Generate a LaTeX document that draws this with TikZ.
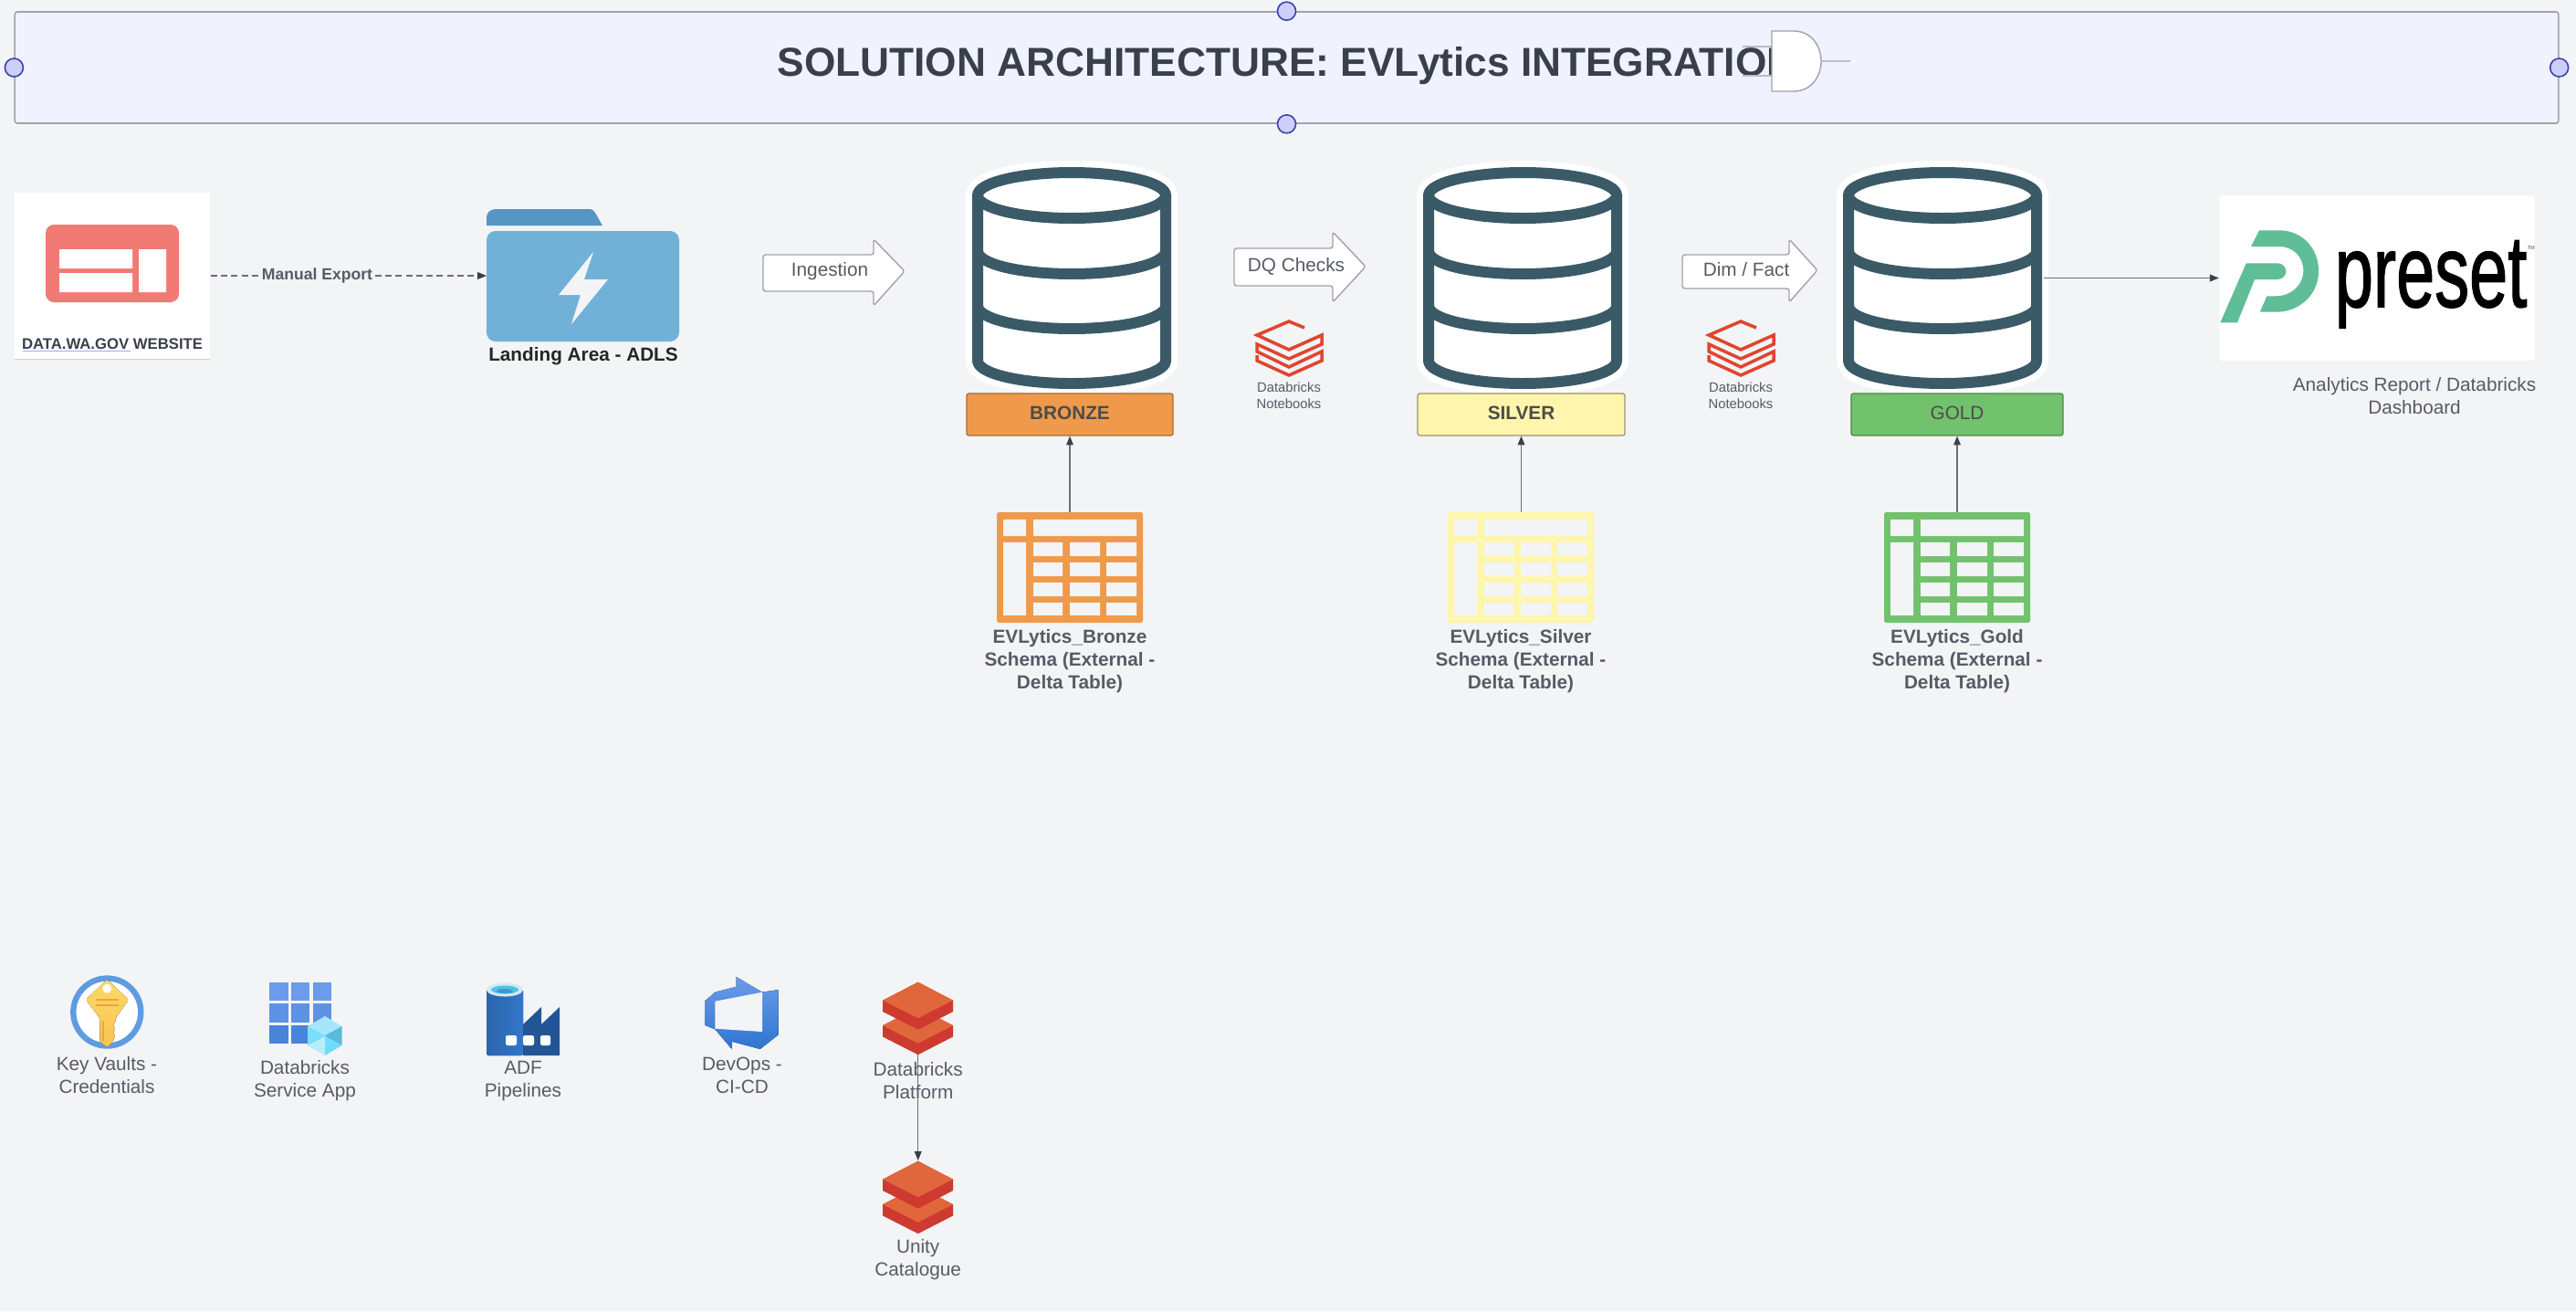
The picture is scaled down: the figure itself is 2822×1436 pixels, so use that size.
\documentclass[tikz,border=0pt]{standalone}
\usepackage{fontspec}
\setmainfont{Liberation Sans}
\newfontfamily\presetfont[FakeBold=1.5]{Liberation Sans}
\usetikzlibrary{arrows.meta}
\definecolor{bgc}{HTML}{F2F4F6}
\definecolor{titlefill}{HTML}{F0F2FE}
\definecolor{edge}{HTML}{A0A2AE}
\definecolor{ink}{HTML}{3A3F4C}
\definecolor{wire}{HTML}{6A6E78}
\definecolor{label}{HTML}{565B66}
\definecolor{drum}{HTML}{3A5A68}
\definecolor{bronze}{HTML}{EF9A4A}
\definecolor{silver}{HTML}{FFF5AD}
\definecolor{gold}{HTML}{72C16C}
\definecolor{dbred}{HTML}{E0452E}
\definecolor{dbtop}{HTML}{E0663C}
\definecolor{dbside}{HTML}{CF3A30}
\definecolor{pgreen}{HTML}{5FBD98}
\definecolor{webred}{HTML}{F07A74}
\definecolor{foldertab}{HTML}{5596C4}
\definecolor{folderbody}{HTML}{71B1D7}
\definecolor{handleline}{HTML}{3C40B0}
\definecolor{handlefill}{HTML}{CCD0F8}
\definecolor{keytop}{HTML}{FBD869}
\definecolor{keybot}{HTML}{F8C452}
\definecolor{keybar}{HTML}{F0A43A}
\definecolor{ringblue}{HTML}{5F9BE0}
\definecolor{gridA}{HTML}{6B9BEA}
\definecolor{gridB}{HTML}{5D92E4}
\definecolor{gridC}{HTML}{4784DA}
\definecolor{adfA}{HTML}{2A64AD}
\definecolor{adfB}{HTML}{3278C8}
\definecolor{adfC}{HTML}{235596}
\definecolor{devA}{HTML}{6B9BEA}
\definecolor{devB}{HTML}{2F75D0}
\tikzset{
  x=0.01cm,y=-0.01cm,
  txt/.style={inner sep=0pt,align=center,text=label,font=\fontsize{5.9}{7.11}\selectfont},
  txtb/.style={txt,font=\fontsize{5.9}{7.11}\selectfont\bfseries},
  small/.style={txt,font=\fontsize{4.2}{5.1}\selectfont},
  handle/.style={circle,draw=handleline,fill=handlefill,line width=.45pt,minimum size=.2cm,inner sep=0pt},
  conn/.style={draw=wire,line width=.33pt,-{Triangle[length=2.8pt,width=2.2pt,color=ink]}},
  flowarrow/.style={draw=edge,fill=white,line width=.4pt,rounded corners=.8pt,line join=round},
  tier/.style={line width=.35pt,rounded corners=.7pt,minimum height=.46cm,inner sep=0pt,text=black!70,font=\fontsize{5.9}{7.11}\selectfont},
  hole/.style={fill=bgc,draw=none},
}
\newcommand{\drumicon}[1]{%
\begin{scope}[xshift=#1*0.01cm]
  \path[draw=white,fill=white,line width=7.4pt,line join=round]
    (-103,214) -- (-103,395) .. controls (-103,409) and (-57,420) .. (0,420) .. controls (57,420) and (103,409) .. (103,395)
    -- (103,214) .. controls (103,200) and (57,189) .. (0,189) .. controls (-57,189) and (-103,200) .. (-103,214) -- cycle;
  \draw[drum,line width=3.41pt,line join=round] (-103,214) -- (-103,395) .. controls (-103,409) and (-57,420) .. (0,420) .. controls (57,420) and (103,409) .. (103,395) -- (103,214);
  \draw[drum,line width=3.41pt] (0,214) ellipse [x radius=103,y radius=25];
  \foreach \yy in {275,335}{
    \draw[drum,line width=3.41pt] (-103,\yy) .. controls (-103,\yy+14) and (-57,\yy+25) .. (0,\yy+25) .. controls (57,\yy+25) and (103,\yy+14) .. (103,\yy);
  }
\end{scope}}
\newcommand{\tableicon}[2]{%
\begin{scope}[xshift=#1*0.01cm]
  \fill[#2,rounded corners=.5pt] (-80,561) rectangle (80,682);
  \fill[hole] (-73,569) rectangle (-48,587) (-40,569) rectangle (73,587) (-73,594) rectangle (-48,674);
  \foreach \ya/\yb in {594/609,616/631,638/653,660/674}{
    \fill[hole] (-40,\ya) rectangle (-8,\yb) (0,\ya) rectangle (33,\yb) (40,\ya) rectangle (73,\yb);
  }
\end{scope}}
\newcommand{\nbicon}[1]{%
\draw[dbred,line width=1.0pt,line join=miter]
  (#1+17,359) -- (#1,352) -- (#1-35,367) -- (#1,383) -- (#1+36,367) -- (#1+36,377) -- (#1,393) -- (#1-35,377) -- (#1-35,385) -- (#1,402) -- (#1+36,385) -- (#1+36,395) -- (#1,411) -- (#1-35,395) -- (#1-35,389);}
\newcommand{\stackicon}[2]{%
\foreach \dy in {27.5,0}{
  \fill[dbside] (#1-38.7,#2+20+\dy) -- (#1,#2+\dy) -- (#1+38.3,#2+20+\dy) -- (#1+38.3,#2+32.3+\dy) -- (#1,#2+52+\dy) -- (#1-38.7,#2+32.3+\dy) -- cycle;
  \fill[dbtop] (#1-38.7,#2+20+\dy) -- (#1,#2+\dy) -- (#1+38.3,#2+20+\dy) -- (#1,#2+39.5+\dy) -- cycle;
}}
\begin{document}
\begin{tikzpicture}
\useasboundingbox (0,0) rectangle (2822,1436);
\fill[bgc] (0,0) rectangle (2822,1436);

% title
\node[draw=edge,fill=titlefill,line width=.45pt,rounded corners=.8pt,minimum width=27.85cm,minimum height=1.22cm,inner sep=0pt] (titlebox) at (1409.5,74) {};
\node[inner sep=0pt,text=ink,font=\fontsize{12.58}{15}\selectfont\bfseries,anchor=west] (titletext) at (851,72) {SOLUTION ARCHITECTURE: EVLytics INTEGRATION};
\node[handle] (hw) at (titlebox.west) {};
\node[handle] (he) at (titlebox.east) {};
\node[handle] (hn) at (titlebox.north) {};
\node[handle] (hs) at (titlebox.south) {};
% gate
\draw[edge!70!white,line width=.3pt] (1909,51) -- (1941,51) (1909,83) -- (1941,83) (1995,67) -- (2027,67);
\draw[edge,fill=white,line width=.4pt] (1941,34) -- (1965,34) .. controls (1984,34) and (1995,50) .. (1995,67) .. controls (1995,84) and (1984,100) .. (1965,100) -- (1941,100) -- cycle;

% website
\node[fill=white,minimum width=2.14cm,minimum height=1.82cm,inner sep=0pt] (web) at (123,302) {};
\draw[black!18,line width=.4pt] (16,393.5) -- (230,393.5);
\fill[webred,rounded corners=2.6pt] (50,246) rectangle (196,331);
\fill[white] (65,273) rectangle (145,294) (65,299) rectangle (145,320) (152,273) rectangle (182,320);
\node[txtb,text=ink,font=\fontsize{4.75}{6}\selectfont\bfseries] (webtext) at (123,377) {DATA.WA.GOV WEBSITE};
\draw[blue!35!white,line width=.25pt] (25,384.5) -- (143,384.5);

% folder
\fill[foldertab] (533,247) -- (533,238) .. controls (533,232) and (538,229) .. (544,229) -- (645,229) .. controls (649,229) and (651,231) .. (652,233) -- (660,247) -- cycle;
\fill[folderbody,rounded corners=2.8pt] (533,253) rectangle (744,374);
\fill[bgc] (650,276) -- (612,323) -- (636,323) -- (626,355) -- (666,306) -- (640,306) -- cycle;
\node[txtb,text=black!85,font=\fontsize{5.9}{7.11}\selectfont\bfseries] (foldertext) at (639,390) {Landing Area - ADLS};
\coordinate (folderW) at (533,302);

% manual export
\draw[draw=wire,line width=.3pt,dash pattern=on 2pt off 1.2pt,-{Triangle[length=2.8pt,width=2.2pt,color=ink,sep=0pt]}] (web.east) -- (folderW) node[pos=.386,fill=bgc,inner sep=0pt,text=label,font=\fontsize{5.0}{6}\selectfont\bfseries] (exportlabel) {Manual Export};

% flow arrows
\draw[flowarrow] (836,279) -- (957,279) -- (957,262) -- (991,297) -- (957,335) -- (957,319) -- (836,319) -- cycle;
\node[txt] (ingest) at (909,297) {Ingestion};
\draw[flowarrow] (1352,272) -- (1460,272) -- (1460,254) -- (1496,292) -- (1460,331) -- (1460,313) -- (1352,313) -- cycle;
\node[txt] (dq) at (1420,292) {DQ Checks};
\draw[flowarrow] (1843,279) -- (1960,279) -- (1960,262) -- (1991,296) -- (1960,331) -- (1960,316) -- (1843,316) -- cycle;
\node[txt] (dim) at (1913,295) {Dim / Fact};

% cylinders
\drumicon{1174}\drumicon{1668}\drumicon{2128}

% tier boxes
\node[tier,draw=bronze!70!black,fill=bronze,minimum width=2.26cm,font=\fontsize{5.9}{7.11}\selectfont\bfseries] (bronzebox) at (1172,454) {\raisebox{.9pt}{BRONZE}};
\node[tier,draw=silver!60!black,fill=silver,minimum width=2.27cm,font=\fontsize{5.9}{7.11}\selectfont\bfseries] (silverbox) at (1666.5,454) {\raisebox{.9pt}{SILVER}};
\node[tier,draw=gold!70!black,fill=gold,minimum width=2.32cm] (goldbox) at (2144,454) {\raisebox{.9pt}{GOLD}};

% tables
\tableicon{1172}{bronze}\tableicon{1666}{silver}\tableicon{2144}{gold}
\coordinate (tb) at (1172,561);
\coordinate (ts) at (1666.5,561);
\coordinate (tg) at (2144,561);
\draw[conn] (tb) -- (bronzebox.south);
\draw[conn] (ts) -- (silverbox.south);
\draw[conn] (tg) -- (goldbox.south);
\node[txtb] (bronzetext) at (1172,724) {EVLytics\_Bronze\\Schema (External -\\Delta Table)};
\node[txtb] (silvertext) at (1666,724) {EVLytics\_Silver\\Schema (External -\\Delta Table)};
\node[txtb] (goldtext) at (2144,724) {EVLytics\_Gold\\Schema (External -\\Delta Table)};

% notebooks
\nbicon{1412}\nbicon{1907}
\node[small] (nb1) at (1412,433) {Databricks\\Notebooks};
\node[small] (nb2) at (1907,433) {Databricks\\Notebooks};

% preset
\node[fill=white,rounded corners=1pt,minimum width=3.45cm,minimum height=1.81cm,inner sep=0pt] (preset) at (2604,304.5) {};
\coordinate (goldE) at (2239,304.5);
\draw[conn] (goldE) -- (preset.west);
\fill[pgreen] (2475,252.3) -- (2496.7,252.3) .. controls (2522,252.3) and (2540,272) .. (2540,296.7) .. controls (2540,322) and (2520,341.7) .. (2493.3,341.7) -- (2475.7,341.7) -- (2483.3,324.3) -- (2493.3,324.3) .. controls (2510,324.3) and (2523.3,312) .. (2523.3,296.7) .. controls (2523.3,281) and (2512,270) .. (2496.7,270) -- (2466,270) -- cycle;
\fill[pgreen] (2432.3,353.3) -- (2460.7,288.3) -- (2495,288.3) .. controls (2500,288.3) and (2504.3,292) .. (2504.3,297.3) .. controls (2504.3,302) and (2500,306) .. (2495,306) -- (2470,306) -- (2451,353.3) -- cycle;
\node[inner sep=0pt,text=black,font=\fontsize{31.9}{34}\presetfont\selectfont,xscale=.675,transform shape,anchor=base] (presettext) at (2663,336) {preset};
\node[inner sep=0pt,text=black!70,font=\fontsize{1.6}{2}\selectfont,anchor=west] (tm) at (2768,272) {TM};
\node[txt] (presetlabel) at (2645,433.5) {Analytics Report / Databricks\\Dashboard};

% key vault
\draw[ringblue,fill=white,line width=1.8pt] (117.3,1108.5) circle [radius=37];
\fill[top color=keytop,bottom color=keybot,rounded corners=.5pt] (117.3,1072.7) -- (141,1095) -- (126.7,1115) -- (126.7,1120) -- (123,1123) -- (127,1127) -- (123,1131) -- (127,1134) -- (124,1138) -- (124,1141) -- (117.3,1147) -- (109.3,1141) -- (109.3,1115) -- (94,1095) -- cycle;
\fill[white] (117.3,1082.7) circle [radius=5];
\draw[keybar,line width=.55pt] (105,1095) -- (130,1095) (105,1100.7) -- (130,1100.7) (113.3,1118) -- (113.3,1140);
\node[txt] (kvtext) at (117,1177.5) {Key Vaults -\\Credentials};

% service app
\foreach \xa/\xb in {295/315.5,319/339,343/363}{
  \fill[gridA] (\xa,1076) rectangle (\xb,1096);
  \fill[gridB] (\xa,1099) rectangle (\xb,1120);
  \fill[gridC] (\xa,1123) rectangle (\xb,1143);
}
\fill[color={rgb,255:red,165;green,230;blue,252}] (356,1113) -- (374.5,1124) -- (356,1134.5) -- (337,1124) -- cycle;
\fill[color={rgb,255:red,92;green,185;blue,217}] (374.5,1124) -- (374.5,1145) -- (356,1134.5) -- cycle;
\fill[color={rgb,255:red,111;green,220;blue,252}] (374.5,1145) -- (356,1156) -- (356,1134.5) -- cycle;
\fill[color={rgb,255:red,182;green,238;blue,252}] (356,1156) -- (337,1145) -- (356,1134.5) -- cycle;
\fill[color={rgb,255:red,122;green,223;blue,252}] (337,1145) -- (337,1124) -- (356,1134.5) -- cycle;
\node[txt] (satext) at (334,1183.5) {Databricks\\Service App};

% ADF
\fill[left color=adfA,right color=adfB,rounded corners=.5pt] (533,1084) rectangle (573,1156);
\fill[adfC] (573,1122) -- (593,1103) -- (593,1122) -- (613,1103) -- (613,1156) -- (573,1156) -- cycle;
\fill[color={rgb,255:red,216;green,232;blue,240}] (553,1084) ellipse [x radius=20,y radius=7.5];
\fill[color={rgb,255:red,79;green,195;blue,232}] (553,1084) ellipse [x radius=15,y radius=4.5];
\fill[color={rgb,255:red,59;green,156;blue,201}] (553,1085.5) ellipse [x radius=9,y radius=2.5];
\fill[white,rounded corners=.6pt] (554,1134) rectangle (566,1145) (573,1134) rectangle (585,1145) (592,1134) rectangle (603,1145);
\node[txt] (adftext) at (573,1183.5) {ADF\\Pipelines};

% DevOps
\fill[top color=devA,bottom color=devB] (806.7,1070) -- (835,1086.7) -- (852.7,1084) -- (852.7,1133.3) -- (832.7,1149) -- (801.7,1140.7) -- (801.7,1149) -- (783.3,1127.3) -- (772,1122.7) -- (772,1096.7) -- (783.3,1086.7) -- (806.7,1080.7) -- cycle;
\fill[bgc] (783.3,1096.7) -- (835,1086.7) -- (835,1130) -- (783.3,1126.7) -- cycle;
\node[txt] (dotext) at (813,1177.5) {DevOps -\\CI-CD};

% Databricks platform / Unity
\stackicon{1005.7}{1075.7}
\stackicon{1005.7}{1271.7}
\coordinate (dbS) at (1005.7,1155);
\coordinate (ucN) at (1005.7,1271);
\draw[conn] (dbS) -- (ucN);
\node[txt] (dbtext) at (1005.7,1183.5) {Databricks\\Platform};
\node[txt] (uctext) at (1005.7,1379.5) {Unity\\Catalogue};
\end{tikzpicture}
\end{document}
